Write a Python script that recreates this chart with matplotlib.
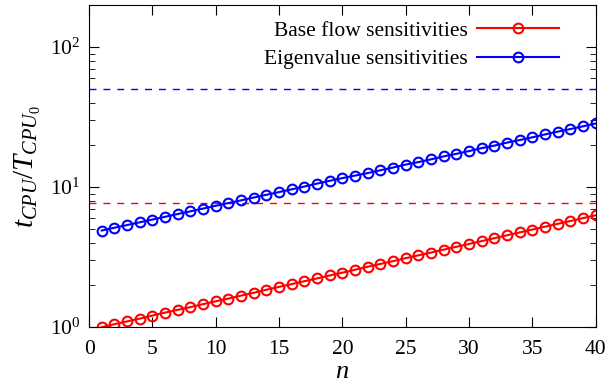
import matplotlib
matplotlib.use("Agg")
import matplotlib.pyplot as plt
from matplotlib.ticker import LogLocator, FixedLocator

plt.rcParams["font.family"] = ["Liberation Serif", "DejaVu Serif"]
plt.rcParams["mathtext.fontset"] = "custom"
plt.rcParams["mathtext.rm"] = "Liberation Serif"
plt.rcParams["mathtext.it"] = "Liberation Serif:italic"

n = list(range(1, 41))
base_flow = [1.00, 1.05, 1.10, 1.15, 1.21, 1.27, 1.33, 1.39, 1.46, 1.53,
             1.60, 1.68, 1.76, 1.85, 1.94, 2.03, 2.13, 2.23, 2.34, 2.45,
             2.57, 2.70, 2.83, 2.96, 3.11, 3.26, 3.41, 3.58, 3.75, 3.93,
             4.12, 4.32, 4.53, 4.75, 4.98, 5.22, 5.47, 5.73, 6.01, 6.30]
eigenvalue = [4.90, 5.13, 5.36, 5.61, 5.87, 6.14, 6.43, 6.72, 7.03, 7.36,
              7.70, 8.05, 8.43, 8.82, 9.22, 9.65, 10.1, 10.6, 11.1, 11.6,
              12.1, 12.6, 13.2, 13.8, 14.5, 15.1, 15.8, 16.6, 17.3, 18.1,
              19.0, 19.8, 20.8, 21.7, 22.7, 23.8, 24.9, 26.0, 27.2, 28.5]
base_ref = 7.7
eig_ref = 50.0

fig = plt.figure(figsize=(6.06, 3.84), dpi=100)
ax = fig.add_axes([0.147, 0.148, 0.836, 0.839])

ax.axhline(base_ref, color="#ff0000", ls=(0, (5, 5)), lw=1.0)
ax.axhline(eig_ref, color="#0000ff", ls=(0, (5, 5)), lw=1.0)
ax.plot(n, base_flow, color="#ff0000", lw=1.5, marker="o", ms=7, mfc="none",
        mew=1.5, label="Base flow sensitivities")
ax.plot(n, eigenvalue, color="#0000ff", lw=1.5, marker="o", ms=7, mfc="none",
        mew=1.5, label="Eigenvalue sensitivities")

ax.set_yscale("log")
ax.set_xlim(0, 40)
ax.set_ylim(1, 200)
ax.xaxis.set_major_locator(FixedLocator(range(0, 41, 5)))
ax.yaxis.set_major_locator(LogLocator(base=10, numticks=10))
ax.yaxis.set_minor_locator(LogLocator(base=10, subs=range(2, 10), numticks=10))
ax.tick_params(which="both", direction="in", top=True, right=True, labelsize=15.5)
ax.tick_params(which="major", length=7)
ax.tick_params(which="minor", length=4)
ax.tick_params(axis="x", pad=9)
ax.tick_params(axis="y", pad=6)

ax.set_xlabel("$n$", fontsize=19, labelpad=2)
ax.set_ylabel("$t_{CPU}/T_{CPU_0}$", fontsize=21, labelpad=5)

ax.legend(loc="upper right", bbox_to_anchor=(0.9224, 0.946),
          bbox_transform=fig.transFigure, frameon=False, markerfirst=False,
          numpoints=1, handlelength=3.8, fontsize=15.5, borderaxespad=0,
          borderpad=0, labelspacing=0.38, handletextpad=0.45)

fig.savefig("out.png", dpi=100)
